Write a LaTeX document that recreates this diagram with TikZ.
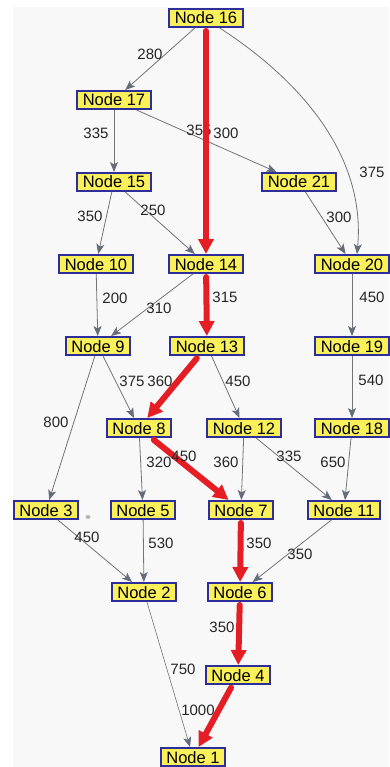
\documentclass[tikz,border=0pt]{standalone}
\usepackage{fontspec}
\setmainfont{Liberation Sans}
\usetikzlibrary{arrows.meta}
\definecolor{boxfill}{RGB}{250,240,90}
\definecolor{boxline}{RGB}{45,45,155}
\definecolor{edgegray}{RGB}{115,115,120}
\definecolor{tipgray}{RGB}{100,108,120}
\definecolor{pathred}{RGB}{228,30,36}
\definecolor{paper}{RGB}{248,248,248}

\begin{document}
\begin{tikzpicture}[x=1pt,y=-1pt,
  graphnode/.style={draw=boxline, line width=2pt, fill=boxfill,
    font=\fontsize{16.5}{18}\selectfont, inner xsep=5.5pt, inner ysep=0pt,
    minimum height=18pt, text height=12pt, text depth=0pt},
  wire/.style={draw=edgegray, line width=0.8pt,
    -{Stealth[length=10pt,width=8pt,inset=2.5pt,color=tipgray]}},
  hot/.style={draw=pathred, line width=6pt, line cap=round, shorten <=3pt,
    -{Triangle[length=15pt,width=15pt]}},
  lab/.style={font=\fontsize{15}{16}\selectfont, text=black!85, inner sep=0pt}]

% canvas
\useasboundingbox (0,0) rectangle (389,767);
\fill[white] (0,0) rectangle (389,767);
\fill[paper] (13,7) rectangle (389,767);

% nodes
\node[graphnode] (n16) at (206,18) {Node 16};
\node[graphnode] (n17) at (114,100) {Node 17};
\node[graphnode] (n15) at (114,182) {Node 15};
\node[graphnode] (n21) at (299,182) {Node 21};
\node[graphnode] (n10) at (96,264) {Node 10};
\node[graphnode] (n14) at (206,264) {Node 14};
\node[graphnode] (n20) at (352,264) {Node 20};
\node[graphnode] (n9) at (98,346) {Node 9};
\node[graphnode] (n13) at (207,346) {Node 13};
\node[graphnode] (n19) at (352,346) {Node 19};
\node[graphnode] (n8) at (139,428) {Node 8};
\node[graphnode] (n12) at (244,428) {Node 12};
\node[graphnode] (n18) at (352,428) {Node 18};
\node[graphnode] (n3) at (46,510) {Node 3};
\node[graphnode] (n5) at (143,510) {Node 5};
\node[graphnode] (n7) at (241,510) {Node 7};
\node[graphnode] (n11) at (344,510) {Node 11};
\node[graphnode] (n2) at (144,592) {Node 2};
\node[graphnode] (n6) at (240,592) {Node 6};
\node[graphnode] (n4) at (238,675) {Node 4};
\node[graphnode] (n1) at (193,757) {Node 1};

% small stray mark beside node 3
\fill[gray!60] (88,517) ellipse (2.5pt and 1.8pt);

% ordinary edges
\draw[wire] (n16) -- (n17) node[lab, at={(150,54)}] {280};
\draw[wire] ([xshift=-24pt]n16.south east) .. controls (300,80) and (366,155) .. ([xshift=5pt]n20.north)
  node[lab, at={(372,172)}] {375};
\draw[wire] (n17) -- (n15) node[lab, at={(96,133)}] {335};
\draw[wire] (n17) -- (n21) node[lab, at={(199,130)}] {355};
\draw[wire] (n15) -- (n10) node[lab, at={(90,216)}] {350};
\draw[wire] (n15) -- (n14) node[lab, at={(153,210)}] {250};
\draw[wire] (n21) -- (n20) node[lab, at={(339,217)}] {300};
\draw[wire] (n10) -- (n9) node[lab, at={(115,298)}] {200};
\draw[wire] (n14) -- (n9) node[lab, at={(159,308)}] {310};
\draw[wire] (n20) -- (n19) node[lab, at={(372,297)}] {450};
\draw[wire] (n9) -- (n3) node[lab, at={(56,422)}] {800};
\draw[wire] (n9) -- (n8) node[lab, at={(132,381)}] {375};
\draw[wire] (n13) -- (n12) node[lab, at={(238,381)}] {450};
\draw[wire] (n19) -- (n18) node[lab, at={(371,380)}] {540};
\draw[wire] (n8) -- (n5) node[lab, at={(159,462)}] {320};
\draw[wire] (n12) -- (n7) node[lab, at={(226,462)}] {360};
\draw[wire] (n12) -- (n11) node[lab, at={(289,456)}] {335};
\draw[wire] (n18) -- (n11) node[lab, at={(333,462)}] {650};
\draw[wire] (n3) -- (n2) node[lab, at={(87,537)}] {450};
\draw[wire] (n5) -- (n2) node[lab, at={(161,543)}] {530};
\draw[wire] (n11) -- (n6) node[lab, at={(300,554)}] {350};
\draw[wire, line width=0.6pt] (n2) -- (n1) node[lab, at={(183,669)}] {750};

% highlighted path
\draw[hot] (n16) -- (n14) node[lab, at={(226,133)}] {300};
\draw[hot] (n14) -- (n13) node[lab, at={(225,297)}] {315};
\draw[hot] (n13) -- (n8) node[lab, at={(160,381)}] {360};
\draw[hot] (n8) -- (n7) node[lab, at={(184,456)}] {450};
\draw[hot] (n7) -- (n6) node[lab, at={(259,543)}] {350};
\draw[hot] (n6) -- (n4) node[lab, at={(222,627)}] {350};
\draw[hot] (n4) -- (n1) node[lab, at={(198,710)}] {1000};
\end{tikzpicture}
\end{document}
